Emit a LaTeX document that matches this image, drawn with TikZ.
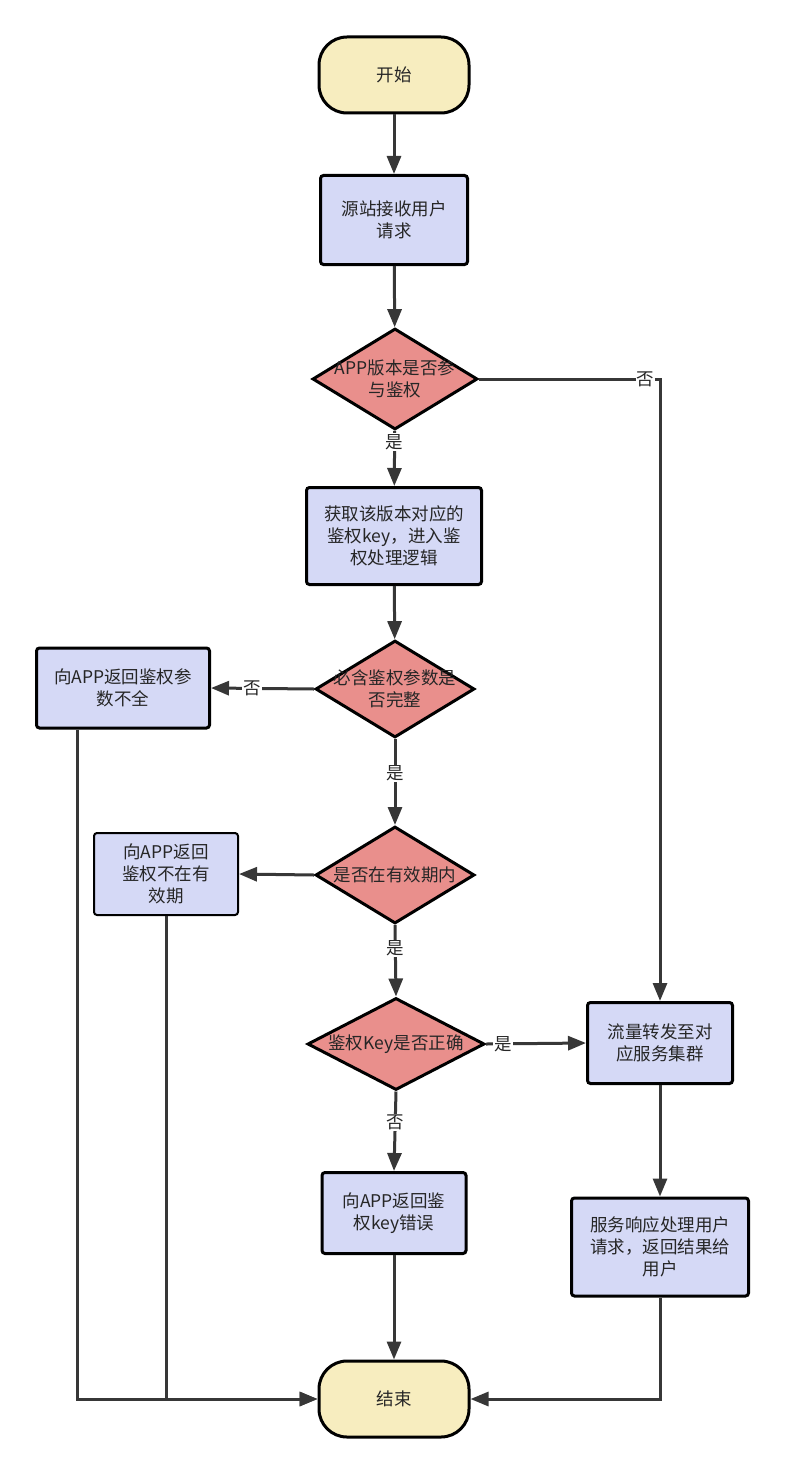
\documentclass[tikz,border=0pt]{standalone}
\usepackage{fontspec}
\setmainfont{Noto Sans CJK SC}
\usetikzlibrary{shapes.geometric,arrows.meta}

\definecolor{termfill}{RGB}{247,237,191}
\definecolor{procfill}{RGB}{213,217,246}
\definecolor{decfill}{RGB}{233,143,140}
\definecolor{linegray}{RGB}{55,55,55}

\tikzset{
  term/.style={draw=black, line width=3pt, fill=termfill, rounded corners=28pt,
    minimum width=150pt, minimum height=76pt},
  proc/.style={draw=black, line width=3pt, fill=procfill, rounded corners=3pt, align=center},
  decide/.style={diamond, draw=black, line width=3pt, fill=decfill, inner sep=0pt},
  flow/.style={draw=linegray, line width=3pt, -{Triangle[length=18pt,width=14pt]}},
  yn/.style={fill=white, inner sep=1pt}
}

\begin{document}
\begin{tikzpicture}[x=1pt,y=-1pt, every node/.style={font=\fontsize{17.5}{22}\selectfont, text=black!85}]
  \useasboundingbox (0,0) rectangle (786,1474);

  % main column
  \node[term] (start) at (394,75) {开始};
  \node[proc, minimum width=147pt, minimum height=89pt] (recv) at (394,220) {源站接收用户\\请求};
  \node[decide, minimum width=165pt, minimum height=101pt,
    label={[align=center]center:{APP版本是否参\\与鉴权}}] (joinauth) at (395,379) {};
  \node[proc, minimum width=175pt, minimum height=97pt] (getkey) at (394,536) {获取该版本对应的\\鉴权key，进入鉴\\权处理逻辑};
  \node[decide, minimum width=159pt, minimum height=97pt,
    label={[align=center]center:{必含鉴权参数是\\否完整}}] (params) at (395,689) {};
  \node[decide, minimum width=159pt, minimum height=97pt,
    label={center:是否在有效期内}] (valid) at (395,875) {};
  \node[decide, minimum width=177pt, minimum height=92pt,
    label={center:鉴权Key是否正确}] (keyok) at (396,1044) {};
  \node[proc, minimum width=144pt, minimum height=81pt] (keyerr) at (394,1213) {向APP返回鉴\\权key错误};
  \node[term] (stop) at (394,1399) {结束};

  % left side
  \node[proc, minimum width=173pt, minimum height=80pt] (nofull) at (123,688) {向APP返回鉴权参\\数不全};
  \node[proc, line width=2pt, minimum width=144pt, minimum height=82pt] (expired) at (166,874) {向APP返回\\鉴权不在有\\效期};

  % right side
  \node[proc, minimum width=145pt, minimum height=81pt] (forward) at (660,1043) {流量转发至对\\应服务集群};
  \node[proc, minimum width=177pt, minimum height=98pt] (respond) at (660,1247) {服务响应处理用户\\请求，返回结果给\\用户};

  \draw[flow] (start) -- (recv);
  \draw[flow] (recv) -- (joinauth);
  \draw[flow] (joinauth) -- node[yn, pos=0.2] {是} (getkey);
  \draw[flow] (joinauth.east) -| node[yn, pos=0.46] {否} (forward.north);
  \draw[flow] (getkey) -- (params);
  \draw[flow] (params.west) -- node[yn, pos=0.6] {否} (nofull.east);
  \draw[flow] (params.south) -- node[yn, pos=0.4] {是} (valid.north);
  \draw[flow] (valid.west) -- (expired.east);
  \draw[flow] (valid.south) -- node[yn, pos=0.33] {是} (keyok.north);
  \draw[flow] (keyok.east) -- node[yn, pos=0.17] {是} (forward.west);
  \draw[flow] (keyok.south) -- node[yn, pos=0.39] {否} (keyerr.north);
  \draw[flow] (forward) -- (respond);
  \draw[flow] (keyerr) -- (stop);
  \draw[flow] ([xshift=-46pt]nofull.south) |- (stop.west);
  \draw[flow] (expired.south) |- (stop.west);
  \draw[flow] (respond.south) |- (stop.east);
\end{tikzpicture}
\end{document}
